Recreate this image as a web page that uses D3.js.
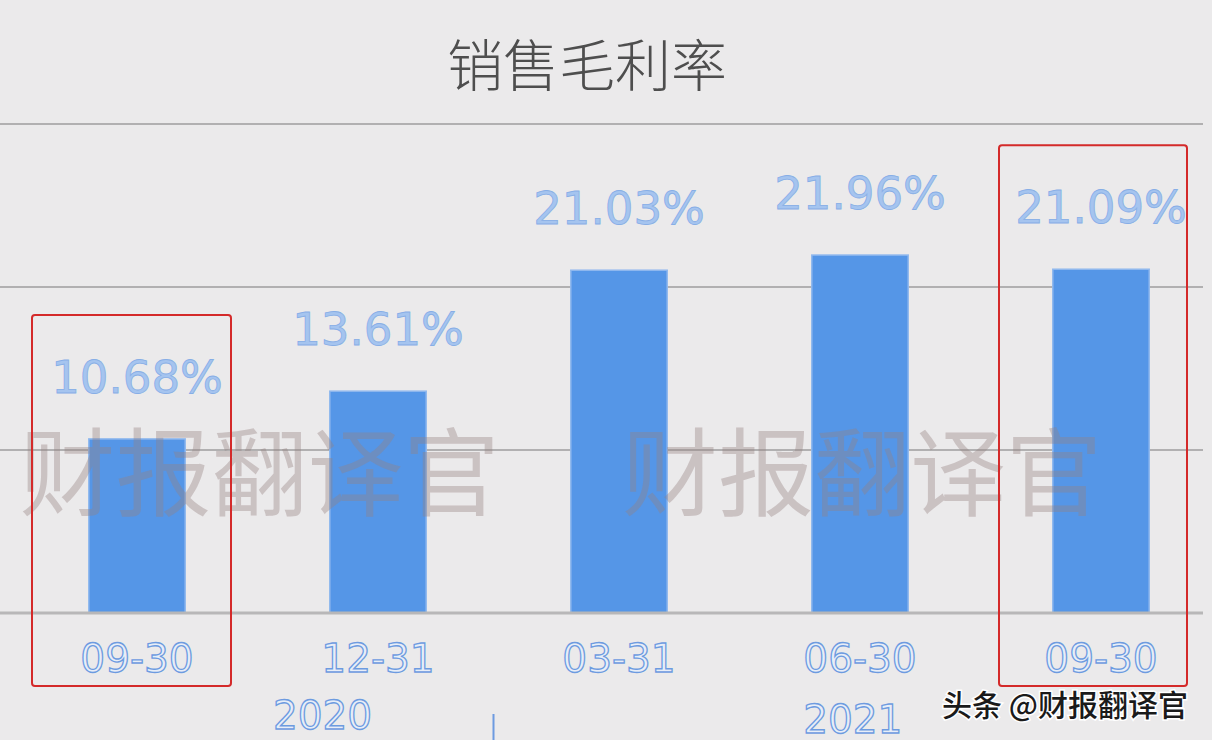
<!DOCTYPE html>
<html><head><meta charset="utf-8">
<script src="https://cdn.jsdelivr.net/npm/d3@7"></script>
<style>html,body{margin:0;padding:0;background:#ebeaeb;}svg{display:block;}</style>
</head><body>
<div id="chart"></div>
<script>
const title = "销售毛利率";
const categories = ["09-30", "12-31", "03-31", "06-30", "09-30"];
const values = [10.68, 13.61, 21.03, 21.96, 21.09];
const years = ["2020", "2021"];
const yearPos = [0.77, 2.97];         // position along category index
const highlighted = [0, 4];
const yTicks = [0, 10, 20, 30];
const watermark = "财报翻译官";
const watermarkPos = [0.5, 3];        // position along category index
const credit = "头条 @财报翻译官";

const W = 1212, H = 740;
const svg = d3.select("#chart").append("svg").attr("width", W).attr("height", H);
svg.append("rect").attr("width", W).attr("height", H).attr("fill", "#ebeaeb");

const x = d3.scaleBand().domain(d3.range(categories.length)).range([16.5, 1221.5])
  .paddingInner(0.6).paddingOuter(0.3);
const y = d3.scaleLinear().domain([0, 30]).range([613, 124]);
const cx = i => x(i) + x.bandwidth() / 2;
const cxf = f => { const i = Math.floor(f); return f === i ? cx(i) : cx(i) + (f - i) * (cx(i + 1) - cx(i)); };

// gridlines
svg.append("g").selectAll("line").data(yTicks.slice(1)).join("line")
  .attr("x1", 0).attr("x2", 1203).attr("y1", d => y(d)).attr("y2", d => y(d))
  .attr("stroke", "#b1b0b1").attr("stroke-width", 2);

// bars
svg.append("g").selectAll("rect").data(values).join("rect")
  .attr("x", (d, i) => x(i)).attr("width", x.bandwidth())
  .attr("y", d => y(d)).attr("height", d => y(0) - y(d))
  .attr("fill", "#5596e7").attr("stroke", "#90b8ee").attr("stroke-width", 1.5);

// axis line
svg.append("line").attr("x1", 0).attr("x2", 1203).attr("y1", y(0)).attr("y2", y(0))
  .attr("stroke", "#b8b7b8").attr("stroke-width", 3);

// value labels
svg.append("g").selectAll("text").data(values).join("text")
  .attr("x", (d, i) => cx(i)).attr("y", d => y(d) - 46)
  .attr("text-anchor", "middle").attr("font-family", "DejaVu Sans")
  .attr("font-size", 45).attr("fill", "#a5c4ef").attr("stroke", "#87aee6").attr("stroke-width", 0.8)
  .text(d => d.toFixed(2) + "%");

// category labels
svg.append("g").selectAll("text").data(categories).join("text")
  .attr("x", (d, i) => cx(i)).attr("y", 672)
  .attr("text-anchor", "middle").attr("font-family", "DejaVu Sans")
  .attr("font-size", 39).attr("fill", "#e8eef8").attr("stroke", "#6d9be0").attr("stroke-width", 1.3)
  .text(d => d);

// years
svg.append("g").selectAll("text").data(years).join("text")
  .attr("x", (d, i) => cxf(yearPos[i])).attr("y", (d, i) => 729 + i * 4)
  .attr("text-anchor", "middle").attr("font-family", "DejaVu Sans")
  .attr("font-size", 39).attr("fill", "#e8eef8").attr("stroke", "#6d9be0").attr("stroke-width", 1.3)
  .text(d => d);
// year separator tick
svg.append("line").attr("x1", (cx(1) + cx(2)) / 2 - 5).attr("x2", (cx(1) + cx(2)) / 2 - 5)
  .attr("y1", 714).attr("y2", 740).attr("stroke", "#6d9be0").attr("stroke-width", 2);

// title
svg.append("text").attr("x", 587).attr("y", 86).attr("text-anchor", "middle")
  .attr("font-family", "Noto Sans CJK SC").attr("font-size", 56).attr("font-weight", 300)
  .attr("fill", "#4e4e4e").text(title);

// watermark
svg.append("g").selectAll("text").data(watermarkPos).join("text")
  .attr("x", d => cxf(d) + 2).attr("y", 508)
  .attr("text-anchor", "middle").attr("font-family", "Noto Sans CJK SC")
  .attr("font-size", 96).attr("fill", "rgba(150,128,128,0.38)")
  .text(watermark);

// highlight boxes
const boxTop = i => y(values[i]) - 46 - 34 - 44;
svg.append("g").selectAll("rect").data(highlighted).join("rect")
  .attr("x", i => cx(i) - 100 - (i === 0 ? 5 : 2)).attr("width", i => i === 0 ? 199 : 188)
  .attr("y", boxTop).attr("height", i => 686 - boxTop(i))
  .attr("rx", 3).attr("fill", "none").attr("stroke", "#d42a2a").attr("stroke-width", 2);

// credit
svg.append("text").attr("x", 1188).attr("y", 716).attr("text-anchor", "end")
  .attr("font-family", "Noto Sans CJK SC").attr("font-size", 30).attr("font-weight", 500)
  .attr("fill", "#1a1a1a").attr("stroke", "#ffffff").attr("stroke-width", 3).attr("paint-order", "stroke")
  .text(credit);
</script>
</body></html>
